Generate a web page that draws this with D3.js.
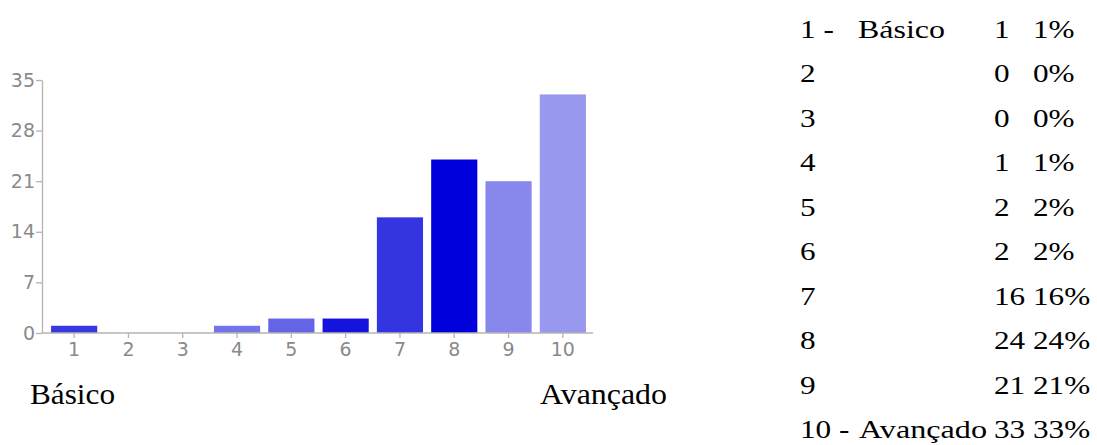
<!DOCTYPE html>
<html><head><meta charset="utf-8">
<script src="https://cdn.jsdelivr.net/npm/d3@7"></script>
<style>
html,body{margin:0;padding:0;background:#fff;}
svg{display:block;}
</style></head>
<body>
<svg id="chart" width="1097" height="445"></svg>
<script>
const categories = ["1","2","3","4","5","6","7","8","9","10"];
const values = [1,0,0,1,2,2,16,24,21,33];
const percents = ["1%","0%","0%","1%","2%","2%","16%","24%","21%","33%"];
const barColors = ["#3838e0","#3838e0","#3838e0","#7474ea","#6464e6","#1414dc","#3434e0","#0000dc","#8787ec","#9898ee"];
const yTicks = [0,7,14,21,28,35];
const tableLabels = ["1 -","2","3","4","5","6","7","8","9","10 -"];
const lowLabel = "Básico";
const highLabel = "Avançado";

const svg = d3.select("#chart");

const x = d3.scaleBand().domain(categories).range([47,590]).paddingInner(0.15).paddingOuter(0.075);
const y = d3.scaleLinear().domain([0,35]).range([333,80]);

const axisColor = "#b4b4b4";
const labelColor = "#8a8a8a";

// bars
svg.append("g").selectAll("rect").data(values).join("rect")
  .attr("x",(d,i)=>x(categories[i]))
  .attr("width",x.bandwidth())
  .attr("y",d=>y(d))
  .attr("height",d=>y(0)-y(d))
  .attr("fill",(d,i)=>barColors[i]);

// y axis
const gy = svg.append("g").attr("transform","translate(42,0)")
  .call(d3.axisLeft(y).tickValues(yTicks).tickSize(6).tickPadding(1).tickSizeOuter(0));
gy.select(".domain").attr("stroke",axisColor).attr("stroke-width",1.3);
gy.selectAll(".tick line").attr("stroke",axisColor).attr("stroke-width",1.3);
gy.selectAll(".tick text").attr("fill",labelColor).style("font-family","DejaVu Sans").style("font-size","19px");

// x axis
const gx = svg.append("g").attr("transform","translate(0,333)")
  .call(d3.axisBottom(x).tickSize(5).tickPadding(5).tickSizeOuter(0));
gx.select(".domain").attr("d","M42,0H593").attr("stroke",axisColor).attr("stroke-width",1.3);
gx.selectAll(".tick line").attr("stroke",axisColor).attr("stroke-width",1.3);
gx.selectAll(".tick text").attr("fill",labelColor).style("font-family","DejaVu Sans").style("font-size","19px");

// bottom labels
svg.append("text").attr("x",30).attr("y",404).text(lowLabel)
  .style("font-family","Liberation Serif").style("font-size","29px").attr("fill","#000")
  .attr("textLength",85).attr("lengthAdjust","spacingAndGlyphs");
svg.append("text").attr("x",540).attr("y",404).text(highLabel)
  .style("font-family","Liberation Serif").style("font-size","29px").attr("fill","#000")
  .attr("textLength",127).attr("lengthAdjust","spacingAndGlyphs");

// right table
const sx = 1.2;
function put(str, tx, ty, len){
  const t = svg.append("text").attr("x",tx).attr("y",ty).text(str)
    .style("font-family","Liberation Serif").style("font-size","26px").attr("fill","#000");
  const w = len || t.node().getComputedTextLength()*sx;
  t.attr("textLength",w).attr("lengthAdjust","spacingAndGlyphs");
}
values.forEach((v,i)=>{
  const by = 37.5 + i*44.5;
  put(tableLabels[i], 800, by);
  if(i===0) put(lowLabel, 858, by, 87);
  if(i===9) put(highLabel, 859, by, 128);
  put(String(v), 994, by);
  put(percents[i], 1033, by);
});
</script>
</body></html>
